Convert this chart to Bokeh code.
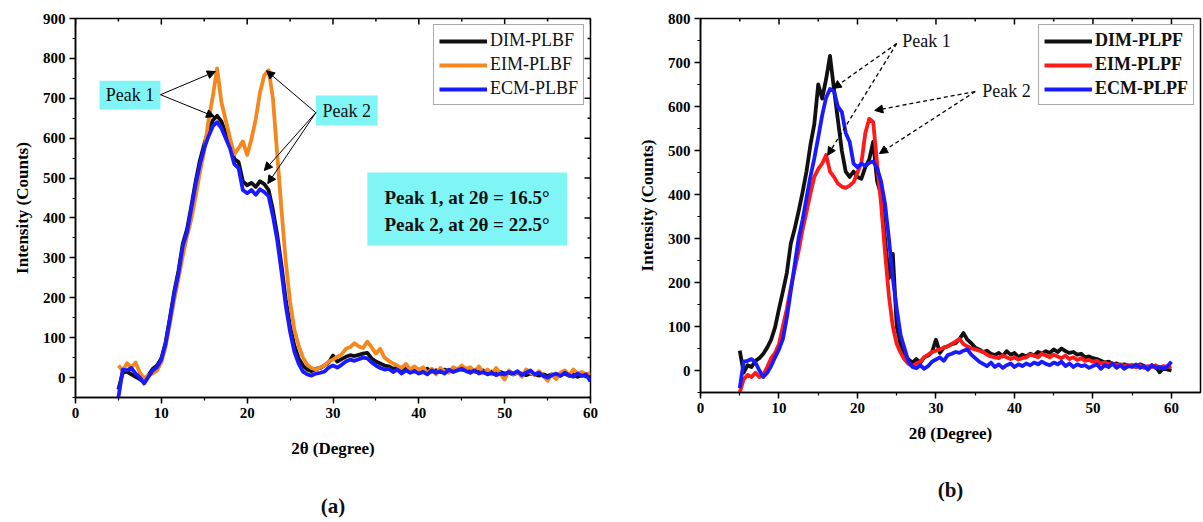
from bokeh.plotting import figure
from bokeh.layouts import row
from bokeh.models import (SingleIntervalTicker, Range1d, Legend, LegendItem,
                          Label, Arrow, NormalHead, BoxAnnotation, Title)
from bokeh.embed import file_html
from bokeh.resources import INLINE

# 2-theta scan grid (degrees), 0.5 degree step from 5 to 60
two_theta = [5 + 0.5 * i for i in range(111)]

# ---- panel (a): PLBF samples ----
dim_plbf = [
    -30, 12, 15, 8, 2, -4, -12, 6, 22, 30,
    48, 88, 150, 215, 268, 335, 372, 430, 492, 545,
    585, 620, 645, 656, 642, 612, 592, 548, 540, 492,
    482, 488, 478, 492, 485, 470, 420, 358, 280, 195,
    128, 80, 48, 30, 20, 16, 22, 24, 30, 38,
    55, 40, 46, 52, 56, 54, 57, 60, 62, 48,
    40, 35, 30, 28, 22, 25, 20, 24, 18, 22,
    20, 16, 22, 15, 18, 14, 20, 16, 18, 22,
    20, 18, 22, 16, 14, 18, 12, 15, 10, 14,
    10, 12, 8, 12, 10, 6, 10, 8, 5, 8,
    4, 8, 2, 6, 10, 4, 8, 2, 6, 4,
    0,
]
eim_plbf = [
    30, 18, 36, 25, 38, 12, -2, 6, 10, 18,
    38, 78, 135, 195, 248, 305, 355, 398, 455, 515,
    568, 645, 705, 775, 690, 645, 600, 560, 575, 592,
    558, 598, 648, 715, 758, 770, 700, 560, 420, 290,
    190, 120, 80, 50, 32, 24, 20, 25, 30, 40,
    45, 52, 58, 72, 76, 86, 78, 74, 90, 76,
    60, 72, 50, 42, 35, 30, 24, 34, 20, 28,
    18, 26, 10, 22, 8, 24, 16, 12, 26, 20,
    30, 22, 26, 14, 28, 12, 20, 8, 24, 10,
    -5, 18, 8, 14, 2, 20, 12, 6, 16, 4,
    -8, 8, -4, 12, 18, 6, 20, 10, 14, 8,
    12,
]
ecm_plbf = [
    -50, 20, 18, 24, 10, 0, -15, 2, 18, 26,
    45, 85, 145, 210, 262, 330, 365, 425, 485, 535,
    575, 605, 630, 640, 625, 600, 575, 535, 525, 470,
    462, 470, 458, 472, 465, 455, 405, 345, 265, 180,
    115, 65, 35, 15, 8, 5, 10, 12, 15, 25,
    30, 25, 32, 40, 45, 42, 46, 50, 48, 38,
    30, 24, 20, 22, 14, 20, 10, 18, 12, 16,
    10, 14, 8, 18, 12, 16, 10, 20, 14, 18,
    22, 16, 12, 18, 10, 14, 8, 12, 6, 10,
    8, 14, 10, 16, 6, 12, 18, 8, 12, 4,
    0, 6, 10, 4, 12, 6, 2, 10, 4, 8,
    -10,
]

# ---- panel (b): PLPF samples ----
dim_plpf = [
    45, -5, 12, 8, 22, 28, 38, 52, 70, 98,
    140, 180, 222, 288, 322, 362, 405, 452, 512, 560,
    650, 618, 662, 715, 640, 570, 500, 452, 440, 452,
    440, 436, 462, 480, 520, 430, 400, 300, 210, 265,
    100, 58, 38, 25, 18, 26, 18, 30, 34, 42,
    70, 40, 52, 55, 60, 62, 72, 85, 70, 62,
    52, 48, 42, 45, 38, 35, 40, 32, 44, 36,
    40, 30, 36, 32, 38, 34, 42, 38, 44, 40,
    48, 42, 50, 44, 40, 42, 36, 38, 30, 32,
    28, 26, 22, 18, 20, 14, 16, 12, 14, 10,
    12, 8, 14, 10, 6, 12, 8, -4, 6, 2,
    0,
]
eim_plpf = [
    -50, -20, -10, -15, -5, -15, -10, 8, 28, 40,
    60, 100, 140, 188, 230, 272, 320, 360, 402, 440,
    458, 470, 490, 452, 440, 425, 418, 415, 420, 428,
    450, 472, 540, 572, 565, 470, 380, 270, 170, 100,
    60, 40, 25, 15, 10, 16, 20, 30, 36, 42,
    45, 48, 52, 55, 60, 66, 72, 60, 55, 50,
    48, 45, 42, 36, 32, 30, 28, 34, 30, 26,
    30, 25, 28, 30, 36, 34, 30, 38, 34, 30,
    36, 32, 28, 34, 26, 30, 24, 28, 22, 24,
    20, 22, 16, 18, 14, 16, 12, 14, 10, 12,
    10, 8, 12, 6, 10, 8, 12, 6, 10, 8,
    10,
]
ecm_plpf = [
    -40, 20, 22, 26, 18, 0, -15, -5, 10, 30,
    48, 72, 120, 180, 240, 300, 342, 392, 440, 482,
    530, 580, 620, 640, 635, 600, 588, 540, 520, 470,
    462, 470, 465, 472, 475, 460, 430, 380, 300, 210,
    140, 80, 50, 20, 8, 5, 12, 4, 10, 20,
    25, 30, 22, 35, 38, 42, 40, 45, 48, 36,
    28, 20, 15, 10, 18, 8, 14, 6, 12, 16,
    8, 14, 10, 16, 12, 18, 14, 20, 15, 12,
    18, 14, 20, 10, 16, 8, 14, 10, 12, 6,
    10, 14, 4, 12, 8, 16, 6, 12, 4, 10,
    8, 14, 6, 10, 2, 12, 6, 8, 4, 10,
    20,
]

labels_a = ["DIM-PLBF", "EIM-PLBF", "ECM-PLBF"]
labels_b = ["DIM-PLPF", "EIM-PLPF", "ECM-PLPF"]
colors_a = ["#111111", "#f5871f", "#1a1aff"]
colors_b = ["#111111", "#ff1a1a", "#1a1aff"]

SERIF = "Liberation Serif"
CYAN = "#80f5f5"
Y_START = -50


def style_axis(ax):
    ax.axis_line_width = 1.5
    ax.axis_line_color = "black"
    ax.major_tick_line_width = 1.5
    ax.minor_tick_line_width = 1.2
    ax.major_tick_out = 6
    ax.major_tick_in = 0
    ax.minor_tick_out = 3
    ax.minor_tick_in = 0
    ax.major_label_standoff = 4
    ax.major_label_text_font = SERIF
    ax.major_label_text_font_style = "bold"
    ax.major_label_text_font_size = "15px"
    ax.major_label_text_color = "black"
    ax.axis_label_text_font = SERIF
    ax.axis_label_text_font_style = "bold"
    ax.axis_label_text_font_size = "17px"
    ax.axis_label_text_color = "black"


def inward_ticks(p, x_end, y_end, frame_w, frame_h, right_side):
    """Tick marks pointing into the frame along the top (and optionally right) edge."""
    px_per_y = frame_h / (y_end - Y_START)
    px_per_x = frame_w / x_end
    xs_major = [10 * i for i in range(int(x_end // 10) + 1)]
    xs_minor = [5 + 10 * i for i in range(int((x_end - 5) // 10) + 1)]
    for xs, length in [(xs_major, 6), (xs_minor, 3)]:
        p.segment(x0=xs, y0=[y_end] * len(xs), x1=xs,
                  y1=[y_end - length / px_per_y] * len(xs),
                  line_color="black", line_width=1.5)
    if right_side:
        ys_major = [100 * i for i in range(int(y_end // 100) + 1)]
        ys_minor = [Y_START + 100 * i for i in range(int((y_end - Y_START) // 100) + 1)]
        for ys, length in [(ys_major, 6), (ys_minor, 3)]:
            p.segment(x0=[x_end] * len(ys), y0=ys, x1=[x_end - length / px_per_x] * len(ys),
                      y1=ys, line_color="black", line_width=1.5)


def make_panel(x_end, y_end, frame_w, frame_h, borders, series, names, colors,
               legend_bold, legend_margin, right_ticks, xlabel_standoff):
    left, right, top, bottom = borders
    p = figure(frame_width=frame_w, frame_height=frame_h,
               x_range=Range1d(0, x_end), y_range=Range1d(Y_START, y_end),
               output_backend="svg", toolbar_location=None,
               min_border_left=left, min_border_right=right,
               min_border_top=top, min_border_bottom=bottom,
               background_fill_color="white", border_fill_color="white")
    p.xgrid.visible = False
    p.ygrid.visible = False
    p.outline_line_color = "black"
    p.outline_line_width = 1.5

    p.xaxis.ticker = SingleIntervalTicker(interval=10, num_minor_ticks=2)
    p.yaxis.ticker = SingleIntervalTicker(interval=100, num_minor_ticks=2)
    style_axis(p.xaxis[0])
    style_axis(p.yaxis[0])
    p.xaxis.axis_label = "2θ (Degree)"
    p.yaxis.axis_label = "Intensity (Counts)"
    p.xaxis.axis_label_standoff = xlabel_standoff
    p.yaxis.axis_label_standoff = 8

    inward_ticks(p, x_end, y_end, frame_w, frame_h, right_ticks)

    items = []
    for ys, name, col in zip(series, names, colors):
        r = p.line(two_theta, ys, line_color=col, line_width=3.8, line_join="round")
        items.append(LegendItem(label=name, renderers=[r]))

    leg = Legend(items=items, location="top_right")
    leg.margin = legend_margin
    leg.border_line_color = "#555555"
    leg.border_line_width = 1.2
    leg.background_fill_alpha = 1
    leg.label_text_font = SERIF
    leg.label_text_font_size = "18px"
    leg.label_text_font_style = "bold" if legend_bold else "normal"
    leg.label_text_color = "#111111"
    leg.glyph_width = 48
    leg.glyph_height = 20
    leg.label_height = 20
    leg.label_standoff = 3
    leg.spacing = 3
    leg.padding = 5
    p.add_layout(leg)
    return p


# ---------------- panel (a) ----------------
pa = make_panel(60, 900, 515, 379, (75, 30, 18, 125),
                [dim_plbf, eim_plbf, ecm_plbf], labels_a, colors_a,
                legend_bold=False, legend_margin=6, right_ticks=True, xlabel_standoff=18)

head = dict(size=8, fill_color="black", line_color="black")

pa.add_layout(BoxAnnotation(left=2.8, right=9.9, bottom=672, top=744,
                            fill_color=CYAN, fill_alpha=1, line_alpha=0))
pa.add_layout(Label(x=6.35, y=708, text="Peak 1", text_font=SERIF, text_font_size="18px",
                    text_align="center", text_baseline="middle", text_color="#111111"))
for xe, ye in [(16.3, 767), (16.2, 654)]:
    pa.add_layout(Arrow(end=NormalHead(**head), x_start=9.9, y_start=709, x_end=xe, y_end=ye,
                        line_color="black", line_width=1))

pa.add_layout(BoxAnnotation(left=28.0, right=35.2, bottom=632, top=707,
                            fill_color=CYAN, fill_alpha=1, line_alpha=0))
pa.add_layout(Label(x=31.6, y=669, text="Peak 2", text_font=SERIF, text_font_size="18px",
                    text_align="center", text_baseline="middle", text_color="#111111"))
for xe, ye in [(22.25, 769), (22.0, 519), (22.4, 486)]:
    pa.add_layout(Arrow(end=NormalHead(**head), x_start=28.0, y_start=664, x_end=xe, y_end=ye,
                        line_color="black", line_width=1))

pa.add_layout(BoxAnnotation(left=34.0, right=57.3, bottom=331, top=514,
                            fill_color=CYAN, fill_alpha=1, line_alpha=0))
for yy, txt in [(451, "Peak 1, at 2θ = 16.5°"), (383, "Peak 2, at 2θ = 22.5°")]:
    pa.add_layout(Label(x=36.0, y=yy, text=txt, text_font=SERIF, text_font_size="19px",
                        text_font_style="bold", text_align="left", text_baseline="middle",
                        text_color="#111111"))

pa.add_layout(Title(text="(a)", align="center", offset=-22, standoff=63,
                    text_font=SERIF, text_font_size="21px", text_font_style="bold",
                    text_color="#111111"), "below")

# ---------------- panel (b) ----------------
pb = make_panel(63.7, 800, 500, 374, (80, 3, 17, 131),
                [dim_plpf, eim_plpf, ecm_plpf], labels_b, colors_b,
                legend_bold=True, legend_margin=6, right_ticks=False, xlabel_standoff=8)

dhead = dict(size=8, fill_color="black", line_color="black")
pb.add_layout(Label(x=25.7, y=748, text="Peak 1", text_font=SERIF, text_font_size="18px",
                    text_align="left", text_baseline="middle", text_color="#111111"))
for xe, ye in [(16.9, 641), (16.2, 489)]:
    pb.add_layout(Arrow(end=NormalHead(**dhead), x_start=25.0, y_start=743, x_end=xe, y_end=ye,
                        line_color="black", line_width=1.3, line_dash="4 3"))
pb.add_layout(Label(x=35.9, y=636, text="Peak 2", text_font=SERIF, text_font_size="18px",
                    text_align="left", text_baseline="middle", text_color="#111111"))
for xe, ye in [(22.2, 591), (22.8, 493)]:
    pb.add_layout(Arrow(end=NormalHead(**dhead), x_start=35.0, y_start=634, x_end=xe, y_end=ye,
                        line_color="black", line_width=1.3, line_dash="4 3"))

pb.add_layout(Title(text="(b)", align="center", offset=25, standoff=60,
                    text_font=SERIF, text_font_size="21px", text_font_style="bold",
                    text_color="#111111"), "below")

layout = row(pa, pb, spacing=0)
open("out.html", "w").write(file_html(layout, INLINE))
